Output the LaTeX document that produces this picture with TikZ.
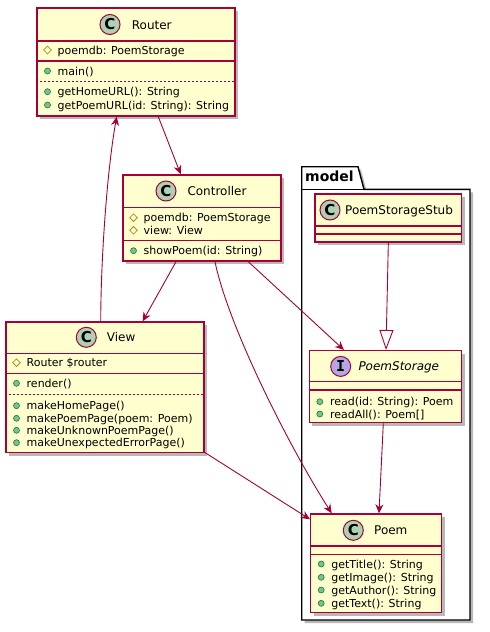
\documentclass[tikz,border=0pt]{standalone}
\usepackage{fontspec}
\setmainfont{DejaVu Sans}
\newfontfamily\monob{DejaVu Sans Mono}
\usetikzlibrary{arrows.meta,shadows,shapes.geometric,calc}
\definecolor{umlred}{HTML}{A80036}
\definecolor{umlfill}{HTML}{FEFECE}
\definecolor{umlc}{HTML}{ADD1B2}
\definecolor{umli}{HTML}{B4A7E5}
\definecolor{protc}{HTML}{B38D22}
\definecolor{pubfill}{HTML}{84BE84}
\definecolor{pubdraw}{HTML}{038048}
\tikzset{
  classbox/.style={draw=umlred, fill=umlfill, line width=1.4pt, inner sep=0pt,
    drop shadow={shadow xshift=3pt, shadow yshift=-3pt, opacity=0.28, fill=black}},
  sepline/.style={draw=umlred, line width=1.2pt},
  dotline/.style={draw=umlred, line width=0.5pt, dash pattern=on 2pt off 2pt},
  cicon/.style={circle, draw=umlred, fill=umlc, line width=1pt, minimum size=20pt, inner sep=0pt,
    font=\fontsize{15}{15}\selectfont\bfseries},
  iicon/.style={cicon, fill=umli, font=\fontsize{15}{15}\selectfont\monob\bfseries},
  cname/.style={anchor=base west, inner sep=0pt, font=\fontsize{12}{14}\selectfont},
  member/.style={anchor=base west, inner sep=0pt, font=\fontsize{11}{13}\selectfont},
  protic/.style={diamond, draw=protc, line width=0.8pt, minimum size=8pt, inner sep=0pt},
  pubic/.style={circle, draw=pubdraw, fill=pubfill, line width=0.6pt, minimum size=6pt, inner sep=0pt},
  assoc/.style={draw=umlred, line width=0.9pt, -{Stealth[length=9pt,width=8pt,inset=3pt]}},
  realize/.style={draw=umlred, line width=0.9pt, -{Triangle[open,length=20pt,width=14pt,fill=white]}},
  pkg/.style={draw=black, fill=white, line width=1.4pt,
    drop shadow={shadow xshift=3pt, shadow yshift=-3pt, opacity=0.28, fill=black}},
}
\begin{document}
\begin{tikzpicture}[x=1pt,y=-1pt]
\useasboundingbox (0,0) rectangle (490,632);

% package model
\path[pkg] (301.7,166.7) -- (358,166.7) -- (364,189.3) -- (470,189.3) -- (470,620) -- (301.7,620) -- cycle;
\draw[black, line width=1.4pt] (301.7,189.3) -- (364,189.3);
\node[anchor=base west, inner sep=0pt, font=\fontsize{14}{16}\selectfont\bfseries] (pkgname) at (305,181.5) {model};

% Router
\node[classbox, minimum width=198pt, minimum height=108pt] (router) at (136,62) {};
\draw[sepline] (router.west |- 0,41) -- (router.east |- 0,41);
\draw[sepline] (router.west |- 0,61) -- (router.east |- 0,61);
\draw[dotline] (router.west |- 0,81) -- (router.east |- 0,81);
\node[cicon] (routerC) at (110,24.5) {C};
\node[cname] (routerN) at (131.7,29) {Router};
\node[protic] (r1i) at (47.5,50) {};
\node[member] (r1) at (57.5,54) {poemdb: PoemStorage};
\node[pubic] (r2i) at (47.5,71) {};
\node[member] (r2) at (57.5,75) {main()};
\node[pubic] (r3i) at (47.5,91.7) {};
\node[member] (r3) at (57.5,95.7) {getHomeURL(): String};
\node[pubic] (r4i) at (47.5,105) {};
\node[member] (r4) at (57.5,109) {getPoemURL(id: String): String};

% Controller
\node[classbox, minimum width=158pt, minimum height=86pt] (ctrl) at (202,218) {};
\draw[sepline] (ctrl.west |- 0,207.3) -- (ctrl.east |- 0,207.3);
\draw[sepline] (ctrl.west |- 0,240.7) -- (ctrl.east |- 0,240.7);
\node[cicon] (ctrlC) at (166,191) {C};
\node[cname] (ctrlN) at (187.3,195.4) {Controller};
\node[protic] (c1i) at (133.5,217.7) {};
\node[member] (c1) at (143.5,221.7) {poemdb: PoemStorage};
\node[protic] (c2i) at (133.5,230.3) {};
\node[member] (c2) at (143.5,234.3) {view: View};
\node[pubic] (c3i) at (133.5,250.7) {};
\node[member] (c3) at (143.5,254.7) {showPoem(id: String)};

% View
\node[classbox, minimum width=198pt, minimum height=130.7pt] (view) at (105,387.35) {};
\draw[sepline] (view.west |- 0,353.3) -- (view.east |- 0,353.3);
\draw[sepline] (view.west |- 0,373.3) -- (view.east |- 0,373.3);
\draw[dotline] (view.west |- 0,394) -- (view.east |- 0,394);
\node[cicon] (viewC) at (86.3,337.3) {C};
\node[cname] (viewN) at (106.7,341.7) {View};
\node[protic] (v1i) at (16.5,362.7) {};
\node[member] (v1) at (26.5,366.7) {Router \$router};
\node[pubic] (v2i) at (16.5,383.3) {};
\node[member] (v2) at (26.5,387.3) {render()};
\node[pubic] (v3i) at (16.5,405.7) {};
\node[member] (v3) at (26.5,409.7) {makeHomePage()};
\node[pubic] (v4i) at (16.5,418.3) {};
\node[member] (v4) at (26.5,422.3) {makePoemPage(poem: Poem)};
\node[pubic] (v5i) at (16.5,430.3) {};
\node[member] (v5) at (26.5,434.3) {makeUnknownPoemPage()};
\node[pubic] (v6i) at (16.5,442.7) {};
\node[member] (v6) at (26.5,446.7) {makeUnexpectedErrorPage()};

% PoemStorageStub
\node[classbox, minimum width=146.7pt, minimum height=48pt] (stub) at (388.35,218) {};
\draw[sepline] (stub.west |- 0,226) -- (stub.east |- 0,226);
\draw[sepline] (stub.west |- 0,234) -- (stub.east |- 0,234);
\node[cicon] (stubC) at (330,210) {C};
\node[cname] (stubN) at (345,214.4) {PoemStorageStub};

% PoemStorage
\node[classbox, minimum width=152.4pt, minimum height=72pt] (pstore) at (385.5,386.7) {};
\draw[sepline] (pstore.west |- 0,381.7) -- (pstore.east |- 0,381.7);
\draw[sepline] (pstore.west |- 0,390) -- (pstore.east |- 0,390);
\node[iicon] (pstoreI) at (340.7,366.4) {I};
\node[cname, font=\fontsize{12}{14}\selectfont\itshape] (pstoreN) at (358.3,370.8) {PoemStorage};
\node[pubic] (p1i) at (319.8,401.7) {};
\node[member] (p1) at (329.8,405.7) {read(id: String): Poem};
\node[pubic] (p2i) at (319.8,414) {};
\node[member] (p2) at (329.8,418) {readAll(): Poem[]};

% Poem
\node[classbox, minimum width=131pt, minimum height=98.7pt] (poem) at (376.2,563.35) {};
\draw[sepline] (poem.west |- 0,546) -- (poem.east |- 0,546);
\draw[sepline] (poem.west |- 0,554.3) -- (poem.east |- 0,554.3);
\node[cicon] (poemC) at (353.3,530.3) {C};
\node[cname] (poemN) at (374,534.7) {Poem};
\node[pubic] (m1i) at (321.2,564) {};
\node[member] (m1) at (331.2,568) {getTitle(): String};
\node[pubic] (m2i) at (321.2,577.3) {};
\node[member] (m2) at (331.2,581.3) {getImage(): String};
\node[pubic] (m3i) at (321.2,590) {};
\node[member] (m3) at (331.2,594) {getAuthor(): String};
\node[pubic] (m4i) at (321.2,603.3) {};
\node[member] (m4) at (331.2,607.3) {getText(): String};

% connectors
\draw[assoc] ([xshift=22.3pt]router.south) -- ([xshift=-21.3pt]ctrl.north);
\draw[assoc] ([xshift=-4.3pt]view.north) .. controls (101,250) and (108,165) .. ([xshift=-19.3pt]router.south);
\draw[assoc] ([xshift=-26pt]ctrl.south) -- ([xshift=37.7pt]view.north);
\draw[assoc] ([xshift=46.3pt]ctrl.south) -- ([xshift=-41.5pt]pstore.north);
\draw[assoc] ([xshift=13pt]ctrl.south) .. controls (228,325) and (287.6,444) .. ([xshift=-44.5pt]poem.north);
\draw[assoc] ([yshift=1pt]view.south east) -- ([yshift=-6pt]poem.north west);
\draw[realize] (stub.south) -- ([xshift=0.5pt]pstore.north);
\draw[assoc] ([xshift=-2.2pt]pstore.south) -- ([xshift=2.8pt]poem.north);
\end{tikzpicture}
\end{document}
